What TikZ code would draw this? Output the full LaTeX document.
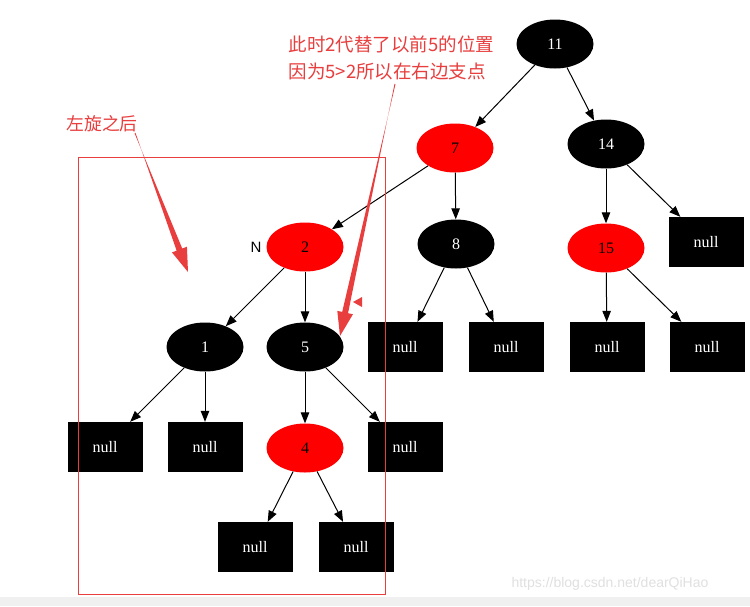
\documentclass[tikz,border=0pt]{standalone}
\usepackage{fontspec}
\setmainfont{Liberation Serif}
\newfontfamily\cjk{Noto Sans CJK SC}
\newfontfamily\sans{Liberation Sans}
\usetikzlibrary{shapes.geometric,arrows.meta,calc}
\definecolor{annot}{RGB}{232,62,62}
\tikzset{
  bnode/.style={ellipse, fill=black, text=white, minimum width=77pt, minimum height=49pt, inner sep=0pt, font=\fontsize{16}{18}\selectfont},
  rnode/.style={ellipse, fill=red, text=black, minimum width=77pt, minimum height=49pt, inner sep=0pt, font=\fontsize{16}{18}\selectfont},
  nullbox/.style={rectangle, fill=black, text=white, minimum width=75pt, minimum height=50pt, inner sep=0pt, font=\fontsize{16}{18}\selectfont},
  edge/.style={draw=black, line width=1pt, -{Triangle[length=11pt,width=8.5pt]}},
  note/.style={text=annot, font=\cjk\fontsize{18.5}{27}\selectfont, anchor=west, align=left},
  bigarrow/.style={fill=annot, draw=none}
}
\begin{document}
\begin{tikzpicture}[x=1pt,y=-1pt]
\path[use as bounding box, fill=white] (0,0) rectangle (750,606);
\fill[black!6] (0,597) rectangle (750,606);
\node[anchor=west, text=black!12, font=\sans\fontsize{14}{16}\selectfont] (wm) at (508,584) {https://blog.csdn.net/dearQiHao};

% nodes
\node[bnode] (n11) at (555,44) {11};
\node[rnode] (n7) at (455,148) {7};
\node[bnode] (n14) at (606,144) {14};
\node[rnode] (n2) at (305,247) {2};
\node[bnode] (n8) at (456,244) {8};
\node[rnode] (n15) at (606,248) {15};
\node[nullbox] (x14) at (706,242) {null};
\node[bnode] (n1) at (205,347) {1};
\node[bnode] (n5) at (305,347) {5};
\node[nullbox] (x8a) at (405,347) {null};
\node[nullbox] (x8b) at (506,347) {null};
\node[nullbox] (x15a) at (607,347) {null};
\node[nullbox] (x15b) at (707,347) {null};
\node[nullbox] (x1a) at (105,447) {null};
\node[nullbox] (x1b) at (205,447) {null};
\node[rnode] (n4) at (305,448) {4};
\node[nullbox] (x5) at (405,447) {null};
\node[nullbox] (x4a) at (255,547) {null};
\node[nullbox] (x4b) at (356,547) {null};
\node[font=\sans\fontsize{15}{17}\selectfont] (lblN) at (256,247) {N};

% edges
\draw[edge] (n11) -- (n7);
\draw[edge] (n11) -- (n14);
\draw[edge] (n7) -- (n2);
\draw[edge] (n7) -- (n8);
\draw[edge] (n14) -- (n15);
\draw[edge] (n14) -- (x14);
\draw[edge] (n2) -- (n1);
\draw[edge] (n2) -- (n5);
\draw[edge] (n8) -- (x8a);
\draw[edge] (n8) -- (x8b);
\draw[edge] (n15) -- (x15a);
\draw[edge] (n15) -- (x15b);
\draw[edge] (n1) -- (x1a);
\draw[edge] (n1) -- (x1b);
\draw[edge] (n5) -- (n4);
\draw[edge] (n5) -- (x5);
\draw[edge] (n4) -- (x4a);
\draw[edge] (n4) -- (x4b);

% annotation box
\draw[annot, line width=0.8pt] (78,157) rectangle (385,594);

% annotation texts
\node[note, font=\cjk\fontsize{17.8}{27}\selectfont] (t1) at (63,124) {左旋之后};
\node[note] (t2) at (285,58) {此时2代替了以前5的位置\\因为5>2所以在右边支点};

% tapered arrows
\coordinate (a1s) at (135,133);
\coordinate (a1e) at (188,272);
\coordinate (a1h) at ($(a1e)!24pt!(a1s)$);
\fill[bigarrow] ($(a1s)!0.5pt!90:(a1e)$) -- ($(a1h)!3pt!-90:(a1e)$) -- ($(a1h)!8pt!-90:(a1e)$) -- (a1e)
  -- ($(a1h)!8pt!90:(a1e)$) -- ($(a1h)!3pt!90:(a1e)$) -- ($(a1s)!0.5pt!-90:(a1e)$) -- cycle;

\coordinate (a2s) at (395,84);
\coordinate (a2e) at (340,336);
\coordinate (a2h) at ($(a2e)!24pt!(a2s)$);
\fill[bigarrow] ($(a2s)!0.5pt!90:(a2e)$) -- ($(a2h)!3pt!-90:(a2e)$) -- ($(a2h)!8pt!-90:(a2e)$) -- (a2e)
  -- ($(a2h)!8pt!90:(a2e)$) -- ($(a2h)!3pt!90:(a2e)$) -- ($(a2s)!0.5pt!-90:(a2e)$) -- cycle;

\fill[annot] (353,302) -- (362,297) -- (362,307) -- cycle;
\end{tikzpicture}
\end{document}
